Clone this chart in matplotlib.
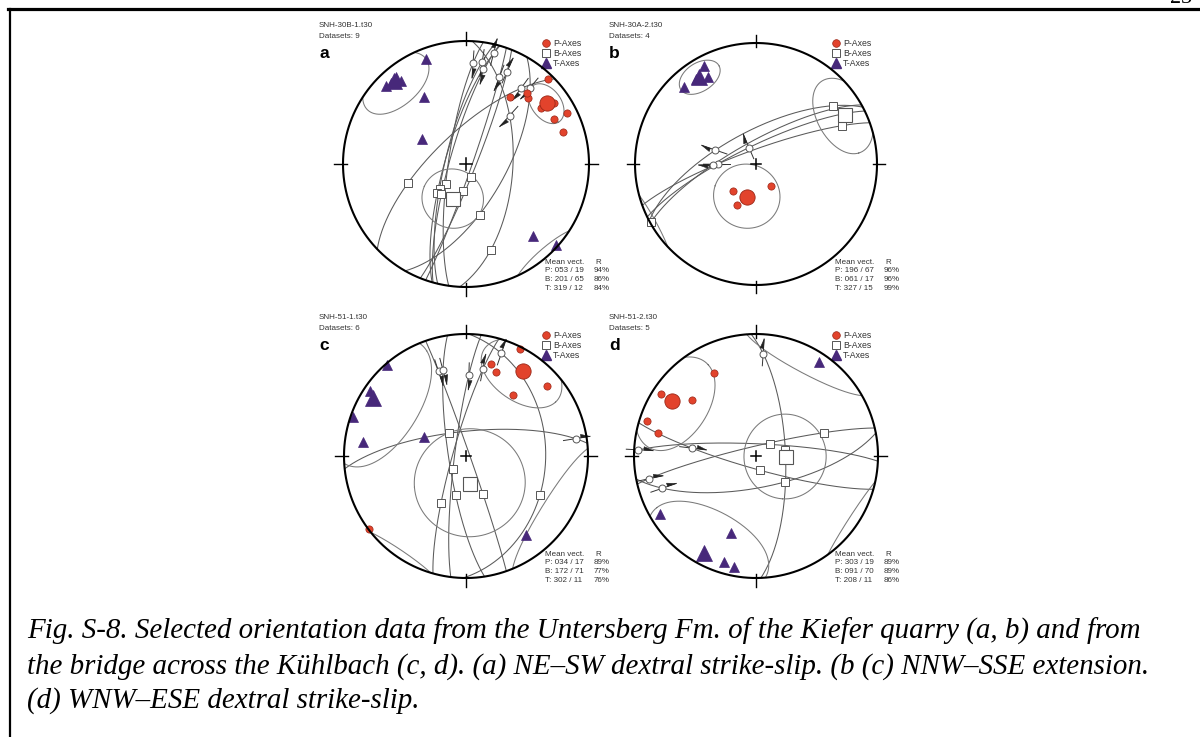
import numpy as np
import matplotlib.pyplot as plt

W, H = 1200, 737

# ---- panel a : SNH-30B-1.t30 (trend, plunge) ----
a_p_axes = [(44, 5), (33, 35), (43, 27), (53, 25), (55, 14), (63, 9), (63, 21), (72, 18), (41, 25)]
a_t_axes = [(339, 9), (314, 10), (317, 11), (321, 10), (322, 15), (328, 36), (300, 56), (137, 21), (132, 2)]
a_b_axes = [(225, 71), (227, 66), (225, 63), (219, 64), (187, 72), (157, 81), (252, 49), (165, 55), (164, 28)]
a_lin = [(4, 19), (9, 17), (10, 23), (14, 8), (21, 25), (24, 19), (36, 25), (40, 20), (42, 46)]
a_sense = [-1, -1, -1, 1, -1, 1, -1, -1, -1]
a_mean = [(53, 19), (201, 65), (319, 12)]      # P, B, T
a_r = [94, 86, 84]
a_cone = [12, 20, 20]

# ---- panel b : SNH-30A-2.t30 ----
b_p_axes = [(220, 66), (205, 59), (199, 65), (145, 72)]
b_t_axes = [(317, 14), (325, 15), (332, 9), (331, 19)]
b_b_axes = [(53, 21), (66, 23), (61, 14), (241, 1)]
b_lin = [(289, 61), (270, 64), (337, 78), (269, 61)]
b_sense = [1, 1, 1, 1]
b_mean = [(196, 67), (61, 17), (327, 15)]
b_r = [96, 96, 99]
b_cone = [22, 22, 12]

# ---- panel c : SNH-51-1.t30 ----
c_p_axes = [(15, 23), (20, 28), (27, 2), (49, 13), (38, 37), (233, 0)]
c_t_axes = [(319, 1), (304, 6), (289, 2), (278, 16), (295, 59), (143, 20)]
c_b_axes = [(323, 71), (156, 62), (195, 63), (226, 78), (208, 54), (118, 32)]
c_lin = [(81, 10), (342, 28), (345, 28), (2, 34), (11, 28), (19, 12)]
c_sense = [1, -1, -1, -1, 1, 1]
c_mean = [(34, 17), (172, 71), (302, 11)]
c_r = [89, 77, 76]
c_cone = [24, 37, 37]

# ---- panel d : SNH-51-2.t30 ----
d_p_axes = [(303, 8), (288, 7), (283, 19), (311, 31), (333, 25)]
d_t_axes = [(239, 9), (198, 34), (197, 10), (191, 8), (34, 8)]
d_b_axes = [(78, 70), (50, 78), (163, 80), (71, 41), (132, 64)]
d_lin = [(4, 17), (273, 4), (277, 46), (258, 11), (251, 20)]
d_sense = [1, -1, -1, -1, -1]
d_mean = [(303, 19), (91, 70), (208, 11)]
d_r = [89, 89, 86]
d_cone = [28, 28, 34]

names = ['SNH-30B-1.t30', 'SNH-30A-2.t30', 'SNH-51-1.t30', 'SNH-51-2.t30']
letters = ['a', 'b', 'c', 'd']

caption = ['Fig. S-8. Selected orientation data from the Untersberg Fm. of the Kiefer quarry (a, b) and from',
           'the bridge across the Kühlbach (c, d). (a) NE–SW dextral strike-slip. (b (c) NNW–SSE extension.',
           '(d) WNW–ESE dextral strike-slip.']

RED, RED_E = '#e2432c', '#9a2717'
PURP = '#47287a'
GREY = '#5a5a5a'


def to_vec(trend, plunge):
    t, p = np.radians(trend), np.radians(plunge)
    return np.array([np.cos(p) * np.sin(t), np.cos(p) * np.cos(t), np.sin(p)])


def project(v):
    # Schmidt net, lower hemisphere
    v = np.asarray(v, float)
    s = np.where(v[2] < 0, -1.0, 1.0)
    x, y, z = v * s
    f = 1 / np.sqrt(1 + z)
    return x * f, y * f


def proj_list(tp):
    v = np.array([to_vec(t, p) for t, p in tp]).T
    return project(v)


def great_circle(ax, lin, bax):
    n = np.cross(to_vec(*lin), to_vec(*bax))
    n /= np.linalg.norm(n)
    a = np.cross(n, [0, 0, 1.0])
    a /= np.linalg.norm(a)
    b = np.cross(n, a)
    if b[2] < 0:
        b = -b
    phi = np.linspace(0, np.pi, 300)
    pts = np.outer(a, np.cos(phi)) + np.outer(b, np.sin(phi))
    x, y = project(pts)
    ax.plot(x, y, color=GREY, lw=0.75, zorder=2)


def cone(ax, mean, alpha):
    m = to_vec(*mean)
    u = np.cross(m, [0, 0, 1.0])
    u /= np.linalg.norm(u)
    w = np.cross(m, u)
    al = np.radians(alpha)
    phi = np.linspace(0, 2 * np.pi, 1441)
    v = np.cos(al) * m[:, None] + np.sin(al) * (np.outer(u, np.cos(phi)) + np.outer(w, np.sin(phi)))
    x, y = project(v)
    up = v[2] >= 0
    brk = np.where(up[1:] != up[:-1])[0] + 1
    x[brk] = np.nan
    y[brk] = np.nan
    ax.plot(x, y, color='#7a7a7a', lw=0.75, zorder=2)


def slip_arrow(ax, lin, sense):
    px, py = project(to_vec(*lin))
    t = np.radians(lin[0])
    ux, uy = np.sin(t) * sense, np.cos(t) * sense
    qx, qy = -uy, ux
    tail = (px - 0.10 * ux, py - 0.10 * uy)
    tip = (px + 0.12 * ux, py + 0.12 * uy)
    ax.plot([tail[0], tip[0]], [tail[1], tip[1]], color='#333333', lw=0.7, zorder=3)
    hx = [tip[0], tip[0] - 0.075 * ux + 0.028 * qx, tip[0] - 0.075 * ux]
    hy = [tip[1], tip[1] - 0.075 * uy + 0.028 * qy, tip[1] - 0.075 * uy]
    ax.fill(hx, hy, color='#222222', lw=0.4, zorder=3)


def draw_panel(ax, p_axes, t_axes, b_axes, lin, sense, mean, cones):
    th = np.linspace(0, 2 * np.pi, 500)
    ax.plot(np.cos(th), np.sin(th), color='k', lw=1.5, zorder=6)
    for ang in np.radians([0, 90, 180, 270]):
        ax.plot([0.97 * np.sin(ang), 1.07 * np.sin(ang)], [0.97 * np.cos(ang), 1.07 * np.cos(ang)],
                color='k', lw=1.0, zorder=6)
    ax.plot([-0.045, 0.045], [0, 0], color='k', lw=1.1, zorder=6)
    ax.plot([0, 0], [-0.045, 0.045], color='k', lw=1.1, zorder=6)

    for l, b in zip(lin, b_axes):
        great_circle(ax, l, b)
    for m, al in zip(mean, cones):
        cone(ax, m, al)
    for l, s in zip(lin, sense):
        slip_arrow(ax, l, s)

    x, y = proj_list(lin)
    ax.plot(x, y, 'o', ms=5, mfc='white', mec='#555555', mew=0.7, zorder=4)
    x, y = proj_list(b_axes)
    ax.plot(x, y, 's', ms=5.5, mfc='white', mec='#555555', mew=0.7, zorder=4)
    x, y = proj_list(p_axes)
    ax.plot(x, y, 'o', ms=5.2, mfc=RED, mec=RED_E, mew=0.5, zorder=5)
    x, y = proj_list(t_axes)
    ax.plot(x, y, '^', ms=6.5, mfc=PURP, mec=PURP, mew=0.5, zorder=5)

    x, y = proj_list([mean[0]])
    ax.plot(x, y, 'o', ms=11, mfc=RED, mec=RED_E, mew=0.6, zorder=5)
    x, y = proj_list([mean[1]])
    ax.plot(x, y, 's', ms=10, mfc='white', mec='#555555', mew=0.8, zorder=5)
    x, y = proj_list([mean[2]])
    ax.plot(x, y, '^', ms=11, mfc=PURP, mec=PURP, mew=0.5, zorder=5)


fig = plt.figure(figsize=(W / 100, H / 100), dpi=100)
bg = fig.add_axes([0, 0, 1, 1])
bg.set_xlim(0, W)
bg.set_ylim(H, 0)
bg.axis('off')

# page frame
bg.plot([8, W], [9, 9], color='k', lw=2.3)
bg.plot([9.5, 9.5], [9, H], color='k', lw=1.6)
bg.text(1181, 3, '23', family='Liberation Serif', fontsize=16, ha='center', va='baseline')

centers = [(466, 164), (756, 164), (466, 456), (756, 456)]
radii = [123, 121, 122, 122]
panels = [
    (a_p_axes, a_t_axes, a_b_axes, a_lin, a_sense, a_mean, a_r, a_cone),
    (b_p_axes, b_t_axes, b_b_axes, b_lin, b_sense, b_mean, b_r, b_cone),
    (c_p_axes, c_t_axes, c_b_axes, c_lin, c_sense, c_mean, c_r, c_cone),
    (d_p_axes, d_t_axes, d_b_axes, d_lin, d_sense, d_mean, d_r, d_cone),
]

sans = 'Liberation Sans'
for (cx, cy), R, name, let, pan in zip(centers, radii, names, letters, panels):
    p_axes, t_axes, b_axes, lin, sense, mean, rr, cones = pan
    ext = 1.12 * R
    ax = fig.add_axes([(cx - ext) / W, (H - cy - ext) / H, 2 * ext / W, 2 * ext / H])
    ax.set_xlim(-1.12, 1.12)
    ax.set_ylim(-1.12, 1.12)
    ax.axis('off')
    draw_panel(ax, p_axes, t_axes, b_axes, lin, sense, mean, cones)

    bg.text(cx - 147, cy - 139, name, family=sans, fontsize=5.8, color='#333333', va='center')
    bg.text(cx - 147, cy - 128, f'Datasets: {len(lin)}', family=sans, fontsize=5.8, color='#333333', va='center')
    bg.text(cx - 147, cy - 111, let, family=sans, fontsize=12.5, fontweight='bold', va='center')

    # legend
    lx, ly = cx + 80, cy - 121
    bg.plot(lx, ly, 'o', ms=5.5, mfc=RED, mec=RED_E, mew=0.5)
    bg.plot(lx, ly + 10, 's', ms=5.5, mfc='white', mec='#555555', mew=0.7)
    bg.plot(lx, ly + 20, '^', ms=6.5, mfc=PURP, mec=PURP)
    for k, lab in enumerate(['P-Axes', 'B-Axes', 'T-Axes']):
        bg.text(lx + 7, ly + 10 * k, lab, family=sans, fontsize=6.3, color='#333333', va='center')

    # mean vectors
    mx, my = cx + 79, cy + 98
    bg.text(mx, my, 'Mean vect.', family=sans, fontsize=5.8, color='#333333', va='center')
    bg.text(cx + 129, my, 'R', family=sans, fontsize=5.8, color='#333333', va='center')
    for k, (key, (t, p), r) in enumerate(zip('PBT', mean, rr)):
        yy = my + 8.7 * (k + 1)
        bg.text(mx, yy, f'{key}: {t:03d} / {p:02d}', family=sans, fontsize=5.8, color='#333333', va='center')
        bg.text(cx + 128, yy, f'{r}%', family=sans, fontsize=5.8, color='#333333', va='center')

for k, line in enumerate(caption):
    bg.text(27, 639 + 34.5 * k, line, family='Liberation Serif', style='italic', fontsize=20.9,
            va='baseline')

fig.savefig('out.png', dpi=100)
